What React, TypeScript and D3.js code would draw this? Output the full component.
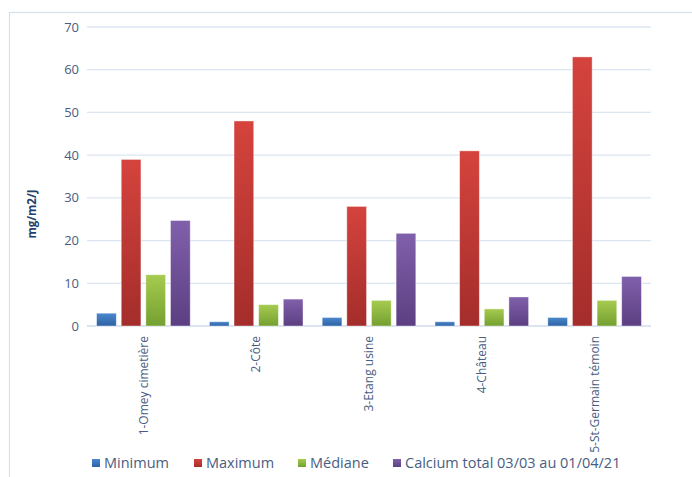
import { useEffect, useRef } from 'react';
import * as d3 from 'd3';

const categories = ['1-Omey cimetière', '2-Côte', '3-Etang usine', '4-Château', '5-St-Germain témoin'];
const seriesNames = ['Minimum', 'Maximum', 'Médiane', 'Calcium total 03/03 au 01/04/21'];
const minimum = [3, 1, 2, 1, 2];
const maximum = [39, 48, 28, 41, 63];
const mediane = [12, 5, 6, 4, 6];
const calcium = [24.7, 6.3, 21.7, 6.8, 11.6];
const yTicks = [0, 10, 20, 30, 40, 50, 60, 70];

// top / bottom gradient stops per series
const colors: [string, string][] = [
  ['#4b88cc', '#2d62a6'],
  ['#d5433d', '#a42d2b'],
  ['#a6cb4f', '#74a031'],
  ['#8060ab', '#5c3f82'],
];

const W = 692;
const H = 477;
const FONT = '"Open Sans", "Noto Sans", sans-serif';
const TEXT = '#475d82';

export default function App() {
  const svgRef = useRef<SVGSVGElement>(null);

  useEffect(() => {
    if (!svgRef.current) return;
    const svg = d3.select(svgRef.current);
    svg.selectAll('*').remove();

    const margin = { top: 27, right: 41, bottom: 151, left: 87 };
    const plotW = W - margin.left - margin.right;
    const plotH = H - margin.top - margin.bottom;
    const values = [minimum, maximum, mediane, calcium];

    // outer chart frame
    svg
      .append('rect')
      .attr('x', 9.5)
      .attr('y', 12.5)
      .attr('width', W)
      .attr('height', H)
      .attr('fill', 'white')
      .attr('stroke', '#d5e0ef')
      .attr('stroke-width', 1.2);

    const defs = svg.append('defs');
    colors.forEach((c, i) => {
      const g = defs
        .append('linearGradient')
        .attr('id', `grad${i}`)
        .attr('x1', '0%')
        .attr('x2', '0%')
        .attr('y1', '0%')
        .attr('y2', '100%');
      g.append('stop').attr('offset', '0%').attr('stop-color', c[0]);
      g.append('stop').attr('offset', '100%').attr('stop-color', c[1]);
    });

    const g = svg.append('g').attr('transform', `translate(${margin.left},${margin.top})`);

    const x0 = d3.scaleBand().domain(categories).range([0, plotW]).paddingInner(0.17).paddingOuter(0.085);
    const x1 = d3.scaleBand().domain(seriesNames).range([0, x0.bandwidth()]).paddingInner(0.2);
    const y = d3.scaleLinear().domain([0, 70]).range([plotH, 0]);

    // gridlines
    g.selectAll('.grid')
      .data(yTicks)
      .enter()
      .append('line')
      .attr('x1', 0)
      .attr('x2', plotW)
      .attr('y1', d => y(d))
      .attr('y2', d => y(d))
      .attr('stroke', d => (d === 0 ? '#cfdcec' : '#dce6f2'))
      .attr('stroke-width', 1.3);

    // y tick labels
    g.selectAll('.ytick')
      .data(yTicks)
      .enter()
      .append('text')
      .attr('x', -8)
      .attr('y', d => y(d))
      .attr('dy', '0.35em')
      .attr('text-anchor', 'end')
      .attr('font-family', FONT)
      .attr('font-size', 13)
      .attr('fill', TEXT)
      .text(d => d);

    // bars
    categories.forEach((cat, ci) => {
      seriesNames.forEach((s, si) => {
        const v = values[si][ci];
        g.append('rect')
          .attr('x', (x0(cat) ?? 0) + (x1(s) ?? 0))
          .attr('y', y(v))
          .attr('width', x1.bandwidth())
          .attr('height', plotH - y(v))
          .attr('fill', `url(#grad${si})`)
          .attr('stroke', 'rgba(255,255,255,0.5)')
          .attr('stroke-width', 0.8);
      });
    });

    // category labels, rotated
    g.selectAll('.xlab')
      .data(categories)
      .enter()
      .append('text')
      .attr('transform', d => `translate(${(x0(d) ?? 0) + x0.bandwidth() / 2},${plotH + 10}) rotate(-90)`)
      .attr('text-anchor', 'end')
      .attr('dy', '0.35em')
      .attr('font-family', FONT)
      .attr('font-size', 12)
      .attr('fill', TEXT)
      .text(d => d);

    // y axis title
    svg
      .append('text')
      .attr('transform', `translate(32,214) rotate(-90)`)
      .attr('text-anchor', 'middle')
      .attr('dy', '0.35em')
      .attr('font-family', FONT)
      .attr('font-size', 11.5)
      .attr('font-weight', 'bold')
      .attr('fill', '#243f6b')
      .text('mg/m2/J');

    // legend
    const legendX = [92, 194, 298, 393];
    const legend = svg.append('g');
    seriesNames.forEach((s, i) => {
      legend
        .append('rect')
        .attr('x', legendX[i])
        .attr('y', 459)
        .attr('width', 8)
        .attr('height', 8)
        .attr('fill', `url(#grad${i})`);
      legend
        .append('text')
        .attr('x', legendX[i] + 12)
        .attr('y', 463)
        .attr('dy', '0.35em')
        .attr('font-family', FONT)
        .attr('font-size', 14.5)
        .attr('fill', TEXT)
        .text(s);
    });
  }, []);

  return (
    <div style={{ position: 'absolute', left: 0, top: 0 }}>
      <svg ref={svgRef} width={W} height={H} style={{ display: 'block' }}></svg>
    </div>
  );
}
